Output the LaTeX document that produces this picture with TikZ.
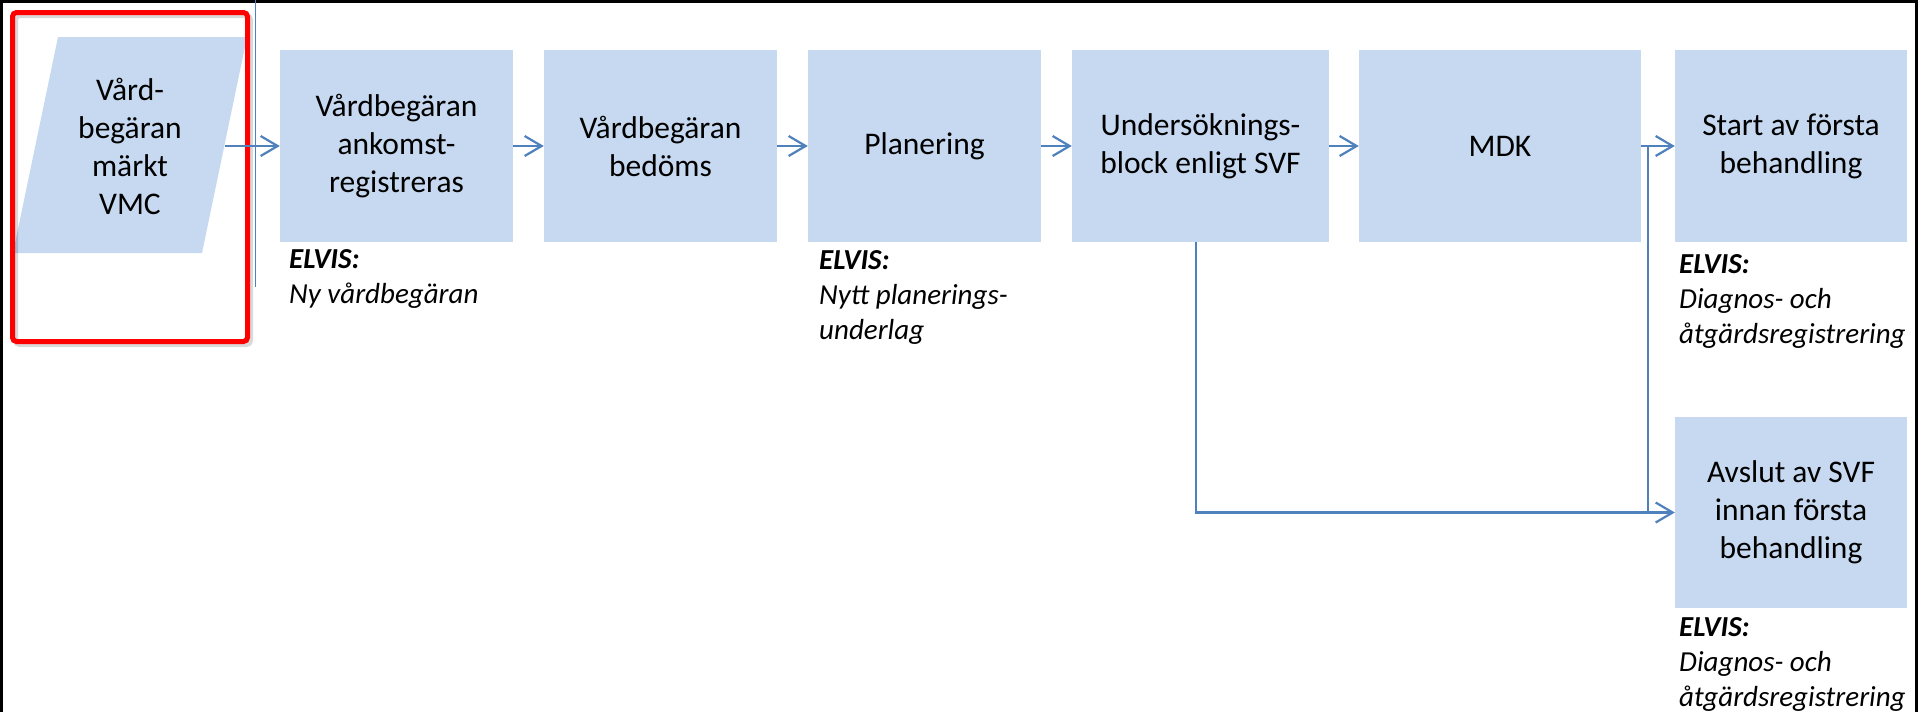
\documentclass[tikz,border=0pt]{standalone}
\usepackage{fontspec}
\setmainfont{Carlito}
\usetikzlibrary{arrows.meta}
\definecolor{boxfill}{RGB}{198,217,240}
\definecolor{arrblue}{RGB}{79,129,189}
\definecolor{frred}{RGB}{255,0,0}
\begin{document}
\begin{tikzpicture}[x=1pt,y=-1pt,
  proc/.style={fill=boxfill, inner sep=0pt, align=center, font=\fontsize{31.5}{38}\selectfont, text=black},
  lbl/.style={anchor=north west, inner sep=0pt, align=left, font=\fontsize{29}{35}\selectfont\itshape},
  arr/.style={draw=arrblue, line width=2.2pt, -{Straight Barb[length=17pt,width=20pt]}},
  conn/.style={draw=arrblue, line width=2.2pt},
  thin/.style={draw=arrblue, line width=1.2pt}]
\clip (0,0) rectangle (1920,712);
\fill[white] (0,0) rectangle (1920,712);
% outer frame
\draw[line width=3pt, black] (1.5,1.5) rectangle (1916,760);
% parallelogram input
\fill[boxfill] (58,37) -- (247,37) -- (202,253) -- (13,253) -- cycle;
\node[proc, fill=none] (para) at (130,146) {Vård-\\begäran\\märkt\\VMC};
\coordinate (paraR) at (224.5,146);
% highlight frame with soft shadow
\draw[black, opacity=0.15, line width=5pt, rounded corners=4pt] (15.5,15.5) rectangle (250.5,344.5);
\draw[frred, line width=5pt, rounded corners=4pt] (12.5,12.5) rectangle (247.5,341.5);
% thin vertical line
\coordinate (vtop) at (255.5,0);
\coordinate (vbot) at (255.5,287);
\draw[thin] (vtop) -- (vbot);
% process boxes
\node[proc, minimum width=233pt, minimum height=192pt] (b1) at (396.5,146) {Vårdbegäran\\ankomst-\\registreras};
\node[proc, minimum width=233pt, minimum height=192pt] (b2) at (660.5,146) {Vårdbegäran\\bedöms};
\node[proc, minimum width=233pt, minimum height=192pt] (b3) at (924.5,146) {Planering};
\node[proc, minimum width=257pt, minimum height=192pt] (b4) at (1200.5,146) {Undersöknings-\\block enligt SVF};
\node[proc, minimum width=282pt, minimum height=192pt] (b5) at (1500,146) {MDK};
\node[proc, minimum width=232pt, minimum height=192pt] (b6) at (1791,146) {Start av första\\behandling};
\node[proc, minimum width=232pt, minimum height=191pt] (b7) at (1791,512.5) {Avslut av SVF\\innan första\\behandling};
% labels
\node[lbl] (l1) at (289,249) {\textbf{ELVIS:}\\Ny vårdbegäran};
\node[lbl] (l3) at (819,250) {\textbf{ELVIS:}\\Nytt planerings-\\underlag};
\node[lbl] (l6) at (1679,254) {\textbf{ELVIS:}\\Diagnos- och\\åtgärdsregistrering};
\node[lbl] (l7) at (1679,617) {\textbf{ELVIS:}\\Diagnos- och\\åtgärdsregistrering};
% connectors
\draw[arr] (paraR) -- (b1.west);
\draw[arr] (b1) -- (b2);
\draw[arr] (b2) -- (b3);
\draw[arr] (b3) -- (b4);
\draw[arr] (b4) -- (b5);
\draw[arr] (b5) -- (b6);
\coordinate (j) at (1648,146);
\draw[conn] (j) -- (j |- b7.west);
\draw[arr] ([xshift=-4.5pt]b4.south) |- (b7.west);
\end{tikzpicture}
\end{document}
